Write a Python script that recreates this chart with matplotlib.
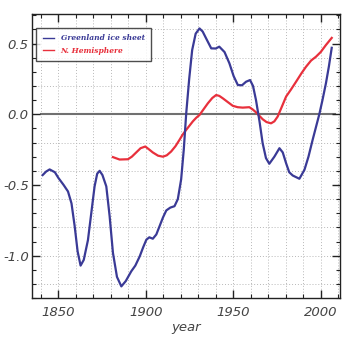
import numpy as np
import matplotlib
matplotlib.use('Agg')
import matplotlib.pyplot as plt
from matplotlib.ticker import MultipleLocator

plt.rcParams['axes.unicode_minus'] = False

# Greenland ice sheet (blue)
gis_year = [1841, 1843, 1845, 1848, 1850, 1853, 1855.5, 1857.5, 1859.3, 1861, 1862.7,
            1864.5, 1866.9, 1868.8, 1870.7, 1872.2, 1873.6, 1875.2, 1877.4, 1879.3,
            1881.2, 1883.5, 1886, 1888.5, 1891.7, 1894, 1896.5, 1898.5, 1900.3, 1902,
            1904, 1906, 1907.9, 1909.8, 1911.7, 1914, 1916.4, 1918.3, 1920.2, 1921.7,
            1923.1, 1924.8, 1926.5, 1928.5, 1930.7, 1932.5, 1934.5, 1937.4, 1940,
            1942, 1945, 1947.8, 1950.2, 1952.6, 1955, 1957.3, 1959.6, 1961.3, 1963,
            1965, 1966.8, 1968.7, 1970.6, 1973.5, 1976.4, 1978.3, 1980.2, 1982, 1984,
            1987.8, 1990.7, 1993, 1995.4, 1997.3, 1999.2, 2001, 2003, 2004.7, 2006.3]
gis_val = [-0.43, -0.405, -0.39, -0.41, -0.45, -0.5, -0.546, -0.63, -0.79, -0.97, -1.07,
           -1.03, -0.89, -0.7, -0.51, -0.42, -0.40, -0.43, -0.51, -0.72,
           -0.98, -1.15, -1.217, -1.18, -1.11, -1.07, -1.005, -0.94, -0.887, -0.87,
           -0.88, -0.85, -0.79, -0.73, -0.68, -0.66, -0.65, -0.6, -0.46, -0.25,
           0.007, 0.25, 0.454, 0.57, 0.607, 0.585, 0.536, 0.466, 0.465,
           0.478, 0.44, 0.36, 0.27, 0.207, 0.205, 0.23, 0.242, 0.2, 0.10,
           -0.05, -0.205, -0.31, -0.35, -0.30, -0.24, -0.27, -0.346, -0.41, -0.433,
           -0.456, -0.393, -0.3, -0.18, -0.09, 0.0, 0.1, 0.22, 0.34, 0.47]

# Northern Hemisphere (red)
nh_year = [1881.2, 1885, 1889.8, 1892, 1894.5, 1897, 1899.7, 1902, 1904, 1907, 1909.8,
           1912, 1914.5, 1917, 1919.3, 1921, 1923.1, 1925, 1926.9, 1928.8, 1930.7,
           1933, 1935.5, 1938, 1940.2, 1942, 1944, 1947, 1949.7, 1952.5, 1955.4,
           1959.2, 1961, 1963, 1966.8, 1969, 1971.6, 1973.5, 1975.4, 1978, 1980.2,
           1983, 1985.9, 1989, 1991.6, 1994.5, 1997.3, 2000, 2003, 2006.3]
nh_val = [-0.303, -0.32, -0.318, -0.3, -0.27, -0.24, -0.228, -0.25, -0.27, -0.293, -0.30,
          -0.29, -0.263, -0.225, -0.18, -0.145, -0.11, -0.08, -0.05, -0.025, -0.005,
          0.035, 0.078, 0.115, 0.136, 0.13, 0.113, 0.085, 0.06, 0.05, 0.047,
          0.05, 0.035, 0.014, -0.035, -0.055, -0.064, -0.05, -0.016, 0.06, 0.125,
          0.175, 0.23, 0.29, 0.336, 0.38, 0.407, 0.44, 0.49, 0.54]

zero_years = [1840, 2008]

fig = plt.figure(figsize=(3.42, 3.38), dpi=100)
ax = fig.add_axes([0.094, 0.118, 0.9, 0.841])

ax.set_xlim(1835, 2011)
ax.set_ylim(-1.3, 0.71)

# dotted grid: every 10 years, every 0.2
for yr in range(1840, 2011, 10):
    ax.axvline(yr, color='#b8b8b8', lw=0.7, ls=(0, (1, 2)), zorder=0)
for v in np.arange(-1.2, 0.61, 0.2):
    ax.axhline(v, color='#b8b8b8', lw=0.7, ls=(0, (1, 2)), zorder=0)

ax.plot(zero_years, [0, 0], color='#707070', lw=1.5, zorder=1)
ax.plot(gis_year, gis_val, color='#3a3a96', lw=1.6, label='Greenland ice sheet', zorder=3)
ax.plot(nh_year, nh_val, color='#e8303c', lw=1.6, label='N. Hemisphere', zorder=2)

ax.xaxis.set_major_locator(MultipleLocator(50))
ax.xaxis.set_minor_locator(MultipleLocator(10))
ax.yaxis.set_major_locator(MultipleLocator(0.5))
ax.yaxis.set_minor_locator(MultipleLocator(0.1))
ax.tick_params(which='both', direction='in', top=True, right=True, color='#222222')
ax.tick_params(which='major', length=6, width=1)
ax.tick_params(which='minor', length=3, width=0.8)
ax.tick_params(axis='both', labelsize=9.5, labelcolor='#444444')
ax.tick_params(axis='x', pad=6)
ax.tick_params(axis='y', pad=2.5)
for lab in ax.get_xticklabels() + ax.get_yticklabels():
    lab.set_fontstyle('italic')
ax.yaxis.set_major_formatter(plt.FuncFormatter(lambda v, p: '%.1f' % v))

for s in ax.spines.values():
    s.set_linewidth(1.0)
    s.set_color('#222222')

ax.set_xlabel('year', fontsize=9.5, fontstyle='italic', color='#444444', labelpad=1)

leg = ax.legend(loc='upper left', bbox_to_anchor=(0.013, 0.95), fancybox=False,
                frameon=True, fontsize=5.4, handlelength=1.5, borderpad=0.85,
                labelspacing=0.6, handletextpad=0.9, borderaxespad=0)
leg.get_frame().set_edgecolor('#222222')
leg.get_frame().set_linewidth(1.0)
for txt, c in zip(leg.get_texts(), ['#3a3a96', '#e8303c']):
    txt.set_color(c)
    txt.set_fontstyle('italic')
    txt.set_fontweight('bold')
    txt.set_family('DejaVu Serif')
for ln in leg.get_lines():
    ln.set_linewidth(1.0)

fig.savefig('out.png', dpi=100)
